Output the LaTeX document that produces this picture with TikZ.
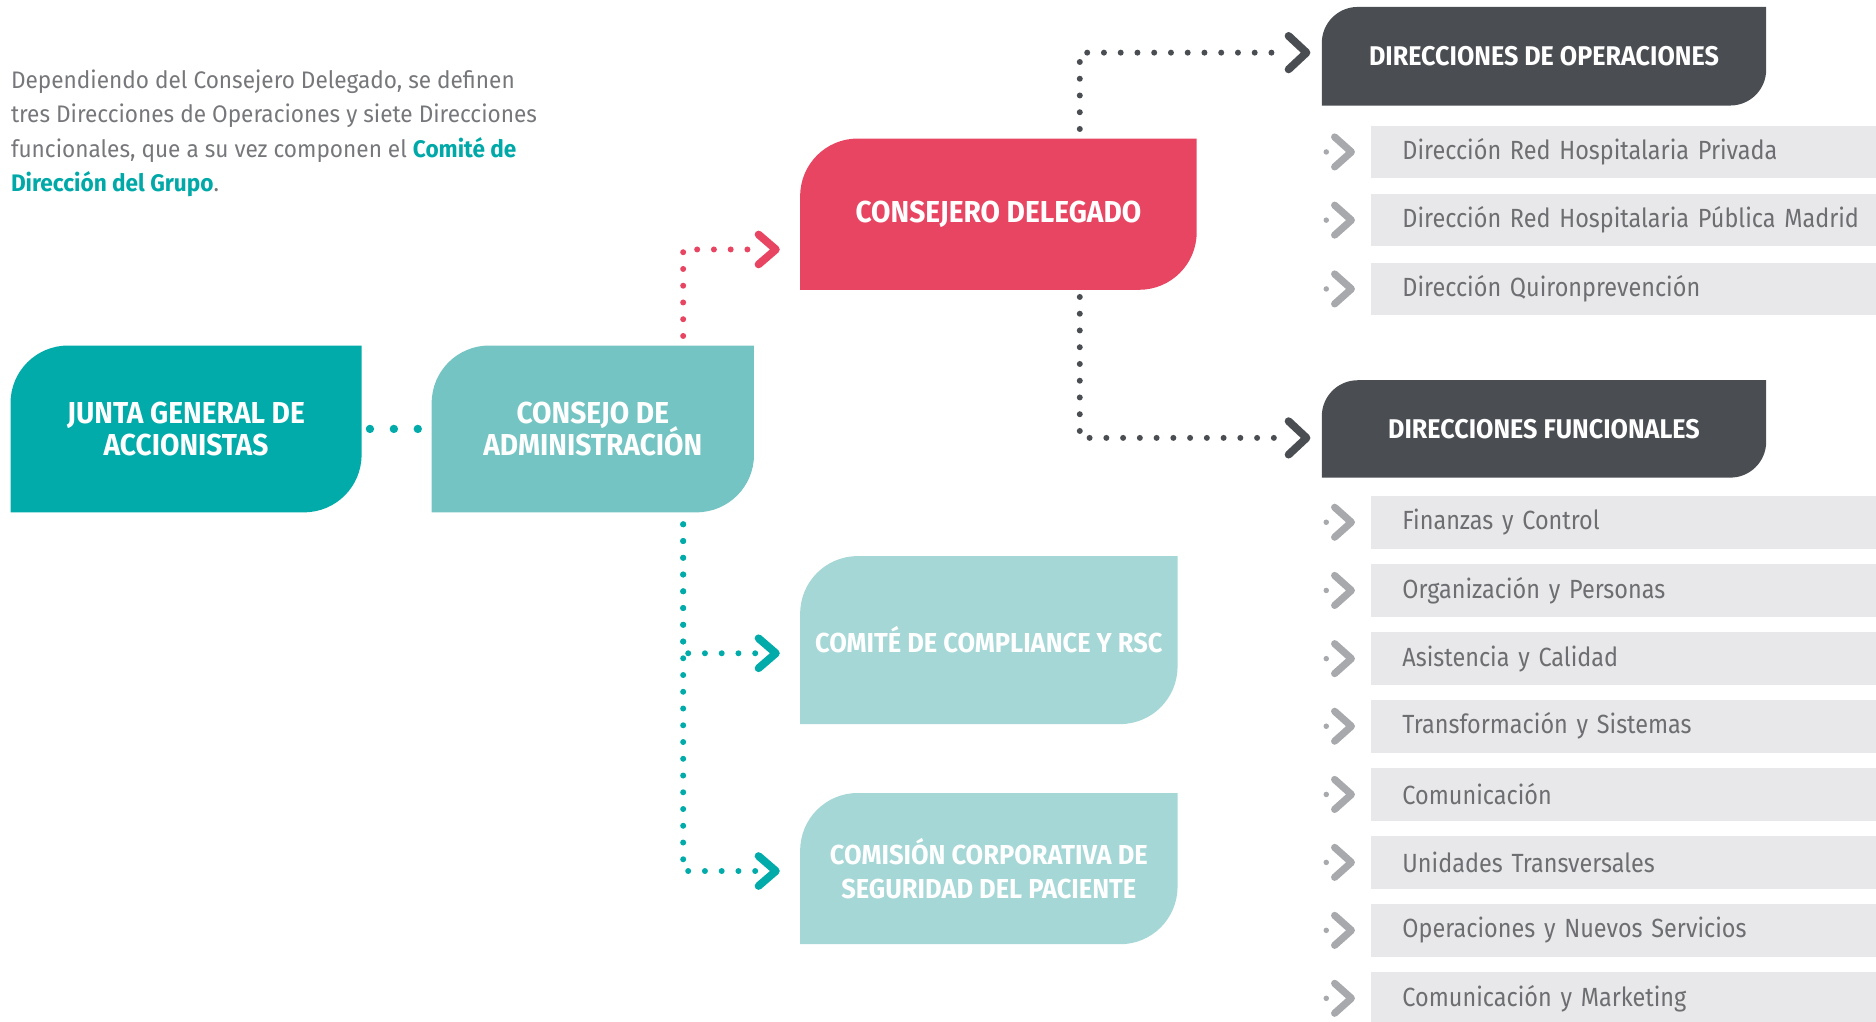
\documentclass[tikz,border=0pt]{standalone}
\usepackage{fontspec}
\setmainfont{Fira Sans}
\newfontfamily\introfont[FakeStretch=0.945]{Fira Sans}
\newfontfamily\rowfont[FakeStretch=0.89,WordSpace=0.7]{Fira Sans}
\newfontfamily\boxfont[FakeStretch=0.93]{Fira Sans}
\newcommand\tightlines{\lineskiplimit=-20pt\relax}
\usetikzlibrary{calc}
\pgfdeclarelayer{background}
\pgfsetlayers{background,main}
\definecolor{juntateal}{HTML}{00ABA9}
\definecolor{cateal}{HTML}{74C4C3}
\definecolor{lightteal}{HTML}{A5D7D6}
\definecolor{cdred}{HTML}{E84562}
\definecolor{darkc}{HTML}{4A4E52}
\definecolor{rowgray}{HTML}{E8E8EA}
\definecolor{rowtext}{HTML}{6D6E71}
\definecolor{chevgray}{HTML}{A7A9AC}
\definecolor{introgray}{HTML}{76777A}
\definecolor{linkteal}{HTML}{00A9A8}
\newcommand\leafshape[3]{%
 \begin{pgfonlayer}{background}
 \fill[#3] (#1.south west) -- ([yshift={-#2pt}]#1.north west)
   .. controls ([yshift={-0.448*#2pt}]#1.north west) and ([xshift={0.448*#2pt}]#1.north west) .. ([xshift={#2pt}]#1.north west)
   -- (#1.north east) -- ([yshift={#2pt}]#1.south east)
   .. controls ([yshift={0.448*#2pt}]#1.south east) and ([xshift={-0.448*#2pt}]#1.south east) .. ([xshift={-#2pt}]#1.south east)
   -- cycle;
 \end{pgfonlayer}}
\tikzset{
 box/.style={inner sep=0pt, align=center, text=white, font=\boxfont\bfseries\fontsize{25.3}{27}\selectfont\tightlines},
 smallbox/.style={inner sep=0pt, align=center, text=white, font=\boxfont\bfseries\fontsize{22.9}{28}\selectfont\tightlines},
 headbox/.style={inner sep=0pt, align=center, text=white, font=\boxfont\bfseries\fontsize{22.6}{26}\selectfont},
 row/.style={fill=rowgray, anchor=west, minimum width=422pt, minimum height=44pt, text width=400pt, inner xsep=26pt, inner ysep=0pt, align=left, text=rowtext, font=\rowfont\fontsize{22}{25}\selectfont},
 chev/.style={line width=6.5pt, line cap=round, line join=round},
 dotline/.style={line width=5pt, line cap=round, dash pattern=on 0pt off 14pt},
}
\begin{document}
\begin{tikzpicture}[x=1pt,y=-1pt]
\useasboundingbox (0,0) rectangle (1568,854.2);
% intro text
\node[anchor=north west, inner sep=0pt, align=left, text=introgray, font=\introfont\fontsize{20}{28.8}\selectfont] (intro) at (9,58)
 {Dependiendo del Consejero Delegado, se definen\\tres Direcciones de Operaciones y siete Direcciones\\funcionales, que a su vez componen el \textcolor{linkteal}{\bfseries Comité de}\\\textcolor{linkteal}{\bfseries Dirección del Grupo}.};
% boxes
\node[box, minimum width=293pt, minimum height=139pt] (junta) at (155.5,358.5) {JUNTA GENERAL DE\\ACCIONISTAS};
\leafshape{junta}{48}{juntateal}
\node[box, minimum width=269pt, minimum height=139pt] (ca) at (495.5,358.5) {CONSEJO DE\\ADMINISTRACIÓN};
\leafshape{ca}{48}{cateal}
\node[box, minimum width=331pt, minimum height=126pt] (cd) at (834.5,179) {CONSEJERO DELEGADO};
\leafshape{cd}{48}{cdred}
\node[smallbox, minimum width=315pt, minimum height=140pt] (comp) at (826.5,535) {COMITÉ DE COMPLIANCE Y RSC};
\leafshape{comp}{48}{lightteal}
\node[smallbox, minimum width=315pt, minimum height=126pt] (pac) at (826.5,726) {COMISIÓN CORPORATIVA DE\\SEGURIDAD DEL PACIENTE};
\leafshape{pac}{48}{lightteal}
\node[headbox, minimum width=371pt, minimum height=82pt] (dop) at (1290.5,47) {DIRECCIONES DE OPERACIONES};
\leafshape{dop}{30}{darkc}
\node[headbox, minimum width=371pt, minimum height=81pt] (dfun) at (1290.5,358.5) {DIRECCIONES FUNCIONALES};
\leafshape{dfun}{30}{darkc}
% rows
\node[row] (o1) at (1146,127) {Dirección Red Hospitalaria Privada};
\node[row] (o2) at (1146,184) {Dirección Red Hospitalaria Pública Madrid};
\node[row] (o3) at (1146,241.5) {Dirección Quironprevención};
\node[row] (f1) at (1146,436.5) {Finanzas y Control};
\node[row] (f2) at (1146,493.5) {Organización y Personas};
\node[row] (f3) at (1146,550.5) {Asistencia y Calidad};
\node[row] (f4) at (1146,607) {Transformación y Sistemas};
\node[row] (f5) at (1146,664) {Comunicación};
\node[row] (f6) at (1146,720.8) {Unidades Transversales};
\node[row] (f7) at (1146,777.6) {Operaciones y Nuevos Servicios};
\node[row] (f8) at (1146,834.4) {Comunicación y Marketing};
\foreach \r in {o1,o2,o3,f1,f2,f3,f4,f5,f6,f7,f8}{
 \fill[chevgray] ([xshift=-37.5pt]\r.west) circle (2.3pt);
 \draw[chev, chevgray, line width=6pt] ([xshift=-30.5pt,yshift=12.5pt]\r.west) -- ([xshift=-16.5pt]\r.west) -- ([xshift=-30.5pt,yshift=-12.5pt]\r.west);
}
% junta - ca dots
\draw[juntateal, line width=7pt, line cap=round, dash pattern=on 0pt off 20pt, shorten <=7pt, shorten >=10pt] (junta.east) -- (ca.west);
% red connector
\coordinate (cdIn) at (636,208.5);
\coordinate (cdTip) at (648.5,208.5);
\draw[dotline, cdred] ([xshift=75.5pt,yshift=8pt]ca.north) |- (cdIn);
\draw[chev, cdred] ([xshift=-14.5pt,yshift=12.5pt]cdTip) -- (cdTip) -- ([xshift=-14.5pt,yshift=-12.5pt]cdTip);
% teal connectors
\coordinate (caS) at ([xshift=75.5pt,yshift=-10pt]ca.south);
\coordinate (compIn) at (636,546);
\coordinate (compTip) at (648.5,546);
\coordinate (pacIn) at (636,728);
\coordinate (pacTip) at (648.5,728);
\draw[dotline, juntateal] (caS) |- (compIn);
\draw[dotline, juntateal] (caS) |- (pacIn);
\draw[chev, juntateal] ([xshift=-14.5pt,yshift=12.5pt]compTip) -- (compTip) -- ([xshift=-14.5pt,yshift=-12.5pt]compTip);
\draw[chev, juntateal] ([xshift=-14.5pt,yshift=12.5pt]pacTip) -- (pacTip) -- ([xshift=-14.5pt,yshift=-12.5pt]pacTip);
% dark connectors
\coordinate (dopIn) at (1070,44);
\coordinate (dopTip) at (1092,44);
\coordinate (dfunIn) at (1075,366);
\coordinate (dfunTip) at (1092,366);
\draw[dotline, darkc] ([xshift=68pt,yshift=8pt]cd.north) |- (dopIn);
\draw[dotline, darkc] ([xshift=68pt,yshift=-6pt]cd.south) |- (dfunIn);
\draw[chev, darkc] ([xshift=-15pt,yshift=14pt]dopTip) -- (dopTip) -- ([xshift=-15pt,yshift=-14pt]dopTip);
\draw[chev, darkc] ([xshift=-15pt,yshift=14pt]dfunTip) -- (dfunTip) -- ([xshift=-15pt,yshift=-14pt]dfunTip);
\end{tikzpicture}
\end{document}
